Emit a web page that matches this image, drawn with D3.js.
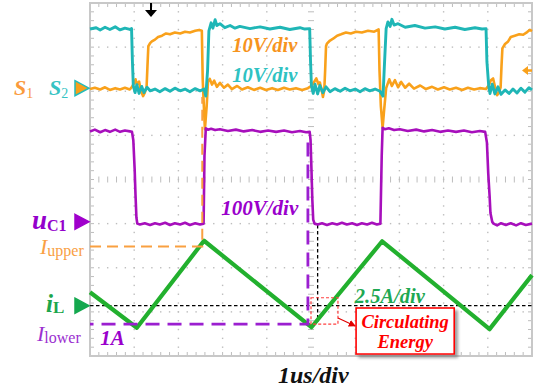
<!DOCTYPE html>
<html><head><meta charset="utf-8">
<script src="https://cdn.jsdelivr.net/npm/d3@7"></script>
<style>body{margin:0;background:#fff}svg{display:block}</style>
</head><body>
<svg id="c" width="538" height="389"></svg>
<script>
// ---------- DATA (time in us, values in V / A) ----------
const channelNames   = ["S1", "S2", "uC1", "iL"];
const channelScales  = [10, 10, 100, 2.5];      // units per division
const channelOffsets = [2.07, 2.07, -0.96, -2.86]; // ground marker, divisions
const scaleLabels    = ["10V/div", "10V/div", "100V/div", "2.5A/div"];
const timebaseLabel  = "1us/div";

const s1Trace = [[0,-0.2],[0.11,0.1],[0.23,-0.3],[0.34,0.2],[0.45,-0.4],[0.57,0.0],[0.68,-0.3],[0.79,0.1],[0.90,-0.3],[0.95,0.3],[1.00,1.2],[1.03,2.0],[1.06,0.8],[1.11,1.5],[1.15,-0.5],[1.20,-1.8],[1.24,-1.0],[1.28,0.2],[1.30,5],[1.32,9.5],[1.36,10.2],[1.40,10.6],[1.47,11.0],[1.54,11.6],[1.63,11.9],[1.72,12.4],[1.81,12.2],[1.92,12.6],[2.04,12.4],[2.15,12.8],[2.26,12.6],[2.38,13.0],[2.47,13.2],[2.53,13.0],[2.55,2],[2.58,-5],[2.60,-9.3],[2.64,-4],[2.67,1.5],[2.71,2.1],[2.76,0.8],[2.81,1.7],[2.87,0.3],[2.94,1.2],[3.03,0.1],[3.12,0.8],[3.21,-0.2],[3.33,0.5],[3.44,-0.3],[3.57,0.2],[3.71,-0.4],[3.85,0.1],[3.98,-0.4],[4.12,0.0],[4.25,-0.4],[4.39,0.1],[4.52,-0.3],[4.66,0.0],[4.80,-0.4],[4.93,0.0],[5.02,0.6],[5.07,1.4],[5.12,2.2],[5.17,0.9],[5.20,1.3],[5.25,-0.8],[5.27,-2.0],[5.30,-0.5],[5.32,4],[5.34,9.5],[5.36,10.1],[5.43,10.8],[5.50,11.2],[5.59,11.9],[5.68,12.2],[5.79,12.6],[5.90,12.4],[6.02,12.8],[6.15,12.6],[6.29,13.0],[6.43,12.8],[6.53,13.3],[6.55,4],[6.58,-4],[6.62,-9.0],[6.65,-5.5],[6.70,0.0],[6.77,2.0],[6.83,0.5],[6.90,1.8],[6.97,0.2],[7.04,1.4],[7.13,0.1],[7.22,1.0],[7.33,-0.1],[7.47,0.6],[7.60,-0.2],[7.74,0.3],[7.87,-0.3],[8.01,0.2],[8.14,-0.3],[8.28,0.1],[8.42,-0.4],[8.55,0.1],[8.69,-0.3],[8.82,0.0],[8.96,-0.2],[9.03,0.8],[9.07,1.8],[9.12,2.2],[9.16,0.4],[9.21,-1.6],[9.25,-1.0],[9.29,0.2],[9.31,5],[9.33,9.0],[9.39,10.0],[9.46,10.6],[9.52,11.6],[9.61,11.9],[9.71,12.2],[9.80,12.1],[9.89,12.7],[9.95,13.2],[10,12.9]];

const s2Trace = [[0,13.4],[0.14,13.7],[0.23,13.2],[0.34,13.8],[0.45,13.3],[0.57,13.9],[0.68,13.2],[0.79,13.6],[0.90,13.3],[0.94,13.5],[0.96,6.0],[0.98,0.5],[1.02,-1.0],[1.06,0.8],[1.11,-1.2],[1.17,0.4],[1.22,-1.0],[1.29,0.2],[1.36,-0.6],[1.47,-0.2],[1.58,-0.8],[1.70,-0.1],[1.81,-0.7],[1.92,0.0],[2.04,-0.6],[2.15,-0.2],[2.26,-0.8],[2.38,-0.1],[2.49,-0.6],[2.58,-0.2],[2.62,-1.8],[2.66,4],[2.69,13.0],[2.74,14.8],[2.78,13.6],[2.83,15.5],[2.87,14.2],[2.94,14.6],[3.05,13.7],[3.17,14.2],[3.28,13.6],[3.39,14.0],[3.62,13.5],[3.85,13.9],[4.07,13.4],[4.30,13.8],[4.52,13.3],[4.75,13.7],[4.86,13.4],[4.97,13.5],[4.99,6],[5.01,0.5],[5.05,-1.2],[5.09,0.9],[5.15,-1.3],[5.20,0.6],[5.27,-1.0],[5.34,0.3],[5.43,-0.8],[5.54,-0.1],[5.66,-0.7],[5.77,0.0],[5.88,-0.6],[6.00,-0.2],[6.11,-0.8],[6.22,-0.1],[6.33,-0.6],[6.45,-0.2],[6.56,-0.7],[6.63,-1.8],[6.66,5],[6.70,13.5],[6.74,15.0],[6.79,14.0],[6.83,15.6],[6.88,14.3],[6.97,14.6],[7.13,13.8],[7.35,14.2],[7.58,13.6],[7.81,13.9],[8.03,13.4],[8.26,13.8],[8.48,13.3],[8.71,13.7],[8.87,13.4],[8.96,13.5],[8.98,6],[9.02,0.5],[9.05,-1.2],[9.10,0.9],[9.16,-1.3],[9.23,0.3],[9.30,-1.4],[9.39,-0.4],[9.48,-1.2],[9.57,-0.2],[9.66,-1.1],[9.75,0.0],[9.84,-0.9],[9.93,0.1],[10,-0.4]];

const uc1Trace = [[0,205],[0.11,209],[0.23,203],[0.34,208],[0.45,204],[0.57,209],[0.68,204],[0.79,207],[0.90,205],[0.95,204],[0.98,185],[1.01,120],[1.03,60],[1.05,10],[1.07,-4],[1.13,-6],[1.24,-3],[1.36,-7],[1.47,-3],[1.58,-6],[1.70,-2],[1.81,-7],[1.92,-3],[2.04,-6],[2.15,-2],[2.26,-7],[2.38,-3],[2.49,-6],[2.57,-4],[2.59,150],[2.62,212],[2.67,209],[2.74,211],[2.83,208],[2.94,210],[3.12,206],[3.30,209],[3.48,205],[3.67,208],[3.85,204],[4.03,207],[4.21,204],[4.39,207],[4.57,203],[4.75,206],[4.89,203],[4.97,204],[4.99,185],[5.01,120],[5.03,50],[5.05,5],[5.08,-4],[5.15,-6],[5.25,-3],[5.36,-7],[5.48,-3],[5.59,-6],[5.70,-2],[5.81,-6],[5.93,-3],[6.04,-7],[6.15,-3],[6.27,-6],[6.38,-2],[6.49,-6],[6.57,-4],[6.60,150],[6.62,213],[6.67,210],[6.76,212],[6.88,208],[7.01,210],[7.19,206],[7.38,209],[7.56,205],[7.74,208],[7.92,204],[8.10,207],[8.28,204],[8.46,207],[8.64,203],[8.82,206],[8.94,204],[8.98,180],[9.01,110],[9.04,60],[9.06,20],[9.10,0],[9.13,-4],[9.21,-8],[9.30,-3],[9.41,-7],[9.52,-3],[9.64,-8],[9.75,-3],[9.86,-7],[10,-4]];

const iLTrace = [[0,0.76],[1.06,-1.25],[2.58,3.68],[5.01,-1.22],[6.61,3.65],[9.04,-1.33],[10,1.73]];

const iUpper = 3.35, iLower = -1.04;       // A
const upperMarkTime = 2.54, lowerMarkTime = 4.93, zeroMarkTime = 5.15; // us
const triggerTime = 1.38;                  // us
const triggerLevel = 4.0;                  // V on S1 (right-edge arrow)

// ---------- SCALES ----------
const svg = d3.select("#c");
const x = d3.scaleLinear().domain([0, 10]).range([90, 532]);
const yDiv = d3.scaleLinear().domain([-4, 4]).range([356, 3]);
const chY = (ci, v) => yDiv(channelOffsets[ci] + v / channelScales[ci]);

const serif = "'Liberation Serif','Times New Roman',serif";

// ---------- GRID ----------
const grid = svg.append("g");
const gcol = "#bdbdbd";
const minor = d3.range(0, 50.001, 1).map(k => k * 0.2);   // 0..10 step .2
const minorY = d3.range(0, 40.001, 1).map(k => -4 + k * 0.2);
d3.range(1, 10).filter(i => i !== 5).forEach(i => {
  grid.selectAll(null).data(minorY.slice(1, -1)).enter().append("rect")
    .attr("x", x(i) - 0.7).attr("y", d => yDiv(d) - 0.7).attr("width", 1.4).attr("height", 1.4).attr("fill", gcol);
});
d3.range(-3, 4).filter(j => j !== 0).forEach(j => {
  grid.selectAll(null).data(minor.slice(1, -1)).enter().append("rect")
    .attr("x", d => x(d) - 0.7).attr("y", yDiv(j) - 0.7).attr("width", 1.4).attr("height", 1.4).attr("fill", gcol);
});
grid.selectAll(null).data(minorY).enter().append("line")
  .attr("x1", x(5) - 3).attr("x2", x(5) + 3).attr("y1", d => yDiv(d)).attr("y2", d => yDiv(d))
  .attr("stroke", gcol).attr("stroke-width", 1);
grid.selectAll(null).data(minor).enter().append("line")
  .attr("y1", yDiv(0) - 3).attr("y2", yDiv(0) + 3).attr("x1", d => x(d)).attr("x2", d => x(d))
  .attr("stroke", gcol).attr("stroke-width", 1);
[[yDiv(4), 1], [yDiv(-4), -1]].forEach(([yy, s]) => {
  grid.selectAll(null).data(minor).enter().append("line")
    .attr("x1", d => x(d)).attr("x2", d => x(d)).attr("y1", yy).attr("y2", yy + 4 * s)
    .attr("stroke", gcol).attr("stroke-width", 1);
});
[[x(0), 1], [x(10), -1]].forEach(([xx, s]) => {
  grid.selectAll(null).data(minorY).enter().append("line")
    .attr("y1", d => yDiv(d)).attr("y2", d => yDiv(d)).attr("x1", xx).attr("x2", xx + 4 * s)
    .attr("stroke", gcol).attr("stroke-width", 1);
});
grid.append("rect").attr("x", x(0)).attr("y", yDiv(4)).attr("width", x(10) - x(0)).attr("height", yDiv(-4) - yDiv(4))
  .attr("fill", "none").attr("stroke", "#c8c8c8").attr("stroke-width", 2);

// ---------- ANNOTATION LINES (behind traces) ----------
const ann = svg.append("g");
ann.append("line").attr("x1", x(0)).attr("x2", x(10)).attr("y1", chY(3, 0)).attr("y2", chY(3, 0))
  .attr("stroke", "#000").attr("stroke-width", 1.3).attr("stroke-dasharray", "3.5,2.5");
ann.append("line").attr("x1", x(zeroMarkTime)).attr("x2", x(zeroMarkTime)).attr("y1", chY(2, -7)).attr("y2", chY(3, -0.93))
  .attr("stroke", "#000").attr("stroke-width", 1.3).attr("stroke-dasharray", "3.5,2.5");

// ---------- TRACES ----------
const traceColors = ["#F9A11B", "#1FB6B6", "#A70FBC", "#22B02E"];
const traces = [s1Trace, s2Trace, uc1Trace, iLTrace];
const widths = [2.6, 2.9, 2.6, 4.2];
[0, 1, 2, 3].forEach(ci => {
  const line = d3.line().x(d => x(d[0])).y(d => chY(ci, d[1]));
  svg.append("path").datum(traces[ci]).attr("d", line).attr("fill", "none")
    .attr("stroke", traceColors[ci]).attr("stroke-width", widths[ci]).attr("stroke-linejoin", "round");
});

// ---------- DASHED MARKERS ----------
svg.append("path").attr("d", d3.line()([[x(0), chY(3, iUpper)], [x(upperMarkTime), chY(3, iUpper)], [x(upperMarkTime), chY(0, -2)]]))
  .attr("fill", "none").attr("stroke", "#F9A040").attr("stroke-width", 2).attr("stroke-dasharray", "11,6");
svg.append("path").attr("d", d3.line()([[x(lowerMarkTime), chY(2, 180)], [x(lowerMarkTime), chY(3, iLower)], [x(0), chY(3, iLower)]]))
  .attr("fill", "none").attr("stroke", "#9B1FD0").attr("stroke-width", 2.8).attr("stroke-dasharray", "14,8");

svg.append("rect").attr("x", x(5.0)).attr("y", chY(3, 0.45)).attr("width", x(5.61) - x(5.0)).attr("height", chY(3, -1.04) - chY(3, 0.45))
  .attr("fill", "none").attr("stroke", "#FF4040").attr("stroke-width", 1.2).attr("stroke-dasharray", "3,2");

const defs = svg.append("defs");
const f = defs.append("filter").attr("id", "sh").attr("x", "-20%").attr("y", "-20%").attr("width", "150%").attr("height", "150%");
f.append("feDropShadow").attr("dx", 3).attr("dy", 3).attr("stdDeviation", 1.8).attr("flood-color", "#777").attr("flood-opacity", 0.7);
defs.append("marker").attr("id", "ah").attr("viewBox", "0 0 10 10").attr("refX", 9).attr("refY", 5)
  .attr("markerWidth", 6).attr("markerHeight", 6).attr("orient", "auto")
  .append("path").attr("d", "M0,0L10,5L0,10z").attr("fill", "#E00000");
const bx0 = x(6.02), bx1 = x(8.24), by0 = chY(3, -0.13), by1 = chY(3, -2.74);
svg.append("rect").attr("x", bx0).attr("y", by0).attr("width", bx1 - bx0).attr("height", by1 - by0)
  .attr("fill", "#fff").attr("stroke", "#FF0000").attr("stroke-width", 1.6).attr("filter", "url(#sh)");
svg.append("line").attr("x1", x(5.61)).attr("y1", chY(3, -0.70)).attr("x2", x(6.0)).attr("y2", chY(3, -1.15))
  .attr("stroke", "#E00000").attr("stroke-width", 1.2).attr("marker-end", "url(#ah)");
const calloutText = ["Circulating", "Energy"];
svg.selectAll(null).data(calloutText).enter().append("text")
  .attr("x", (bx0 + bx1) / 2).attr("y", (d, i) => by0 + 20 + i * 20).attr("text-anchor", "middle")
  .attr("font-family", serif).attr("font-weight", "bold").attr("font-style", "italic").attr("font-size", 18.5)
  .attr("fill", "#FF0000").text(d => d);

// ---------- SCALE LABELS ----------
const lblColors = ["#F7941D", "#2FC2C2", "#9A00CC", "#1FA852"];
const lblPos = [[3.22, 0, 8.1], [3.22, 1, 1.5], [2.97, 2, 16], [5.99, 3, 0.15]]; // [t, channel, value at baseline]
lblPos.forEach(([t, ci, v], k) => {
  svg.append("text").attr("x", x(t)).attr("y", chY(ci, v)).attr("font-family", serif).attr("font-weight", "bold")
    .attr("font-style", "italic").attr("font-size", k === 2 ? 21 : 20.5).attr("fill", lblColors[k]).text(scaleLabels[k]);
});
svg.append("text").attr("x", x(0.23)).attr("y", chY(3, -2.2)).attr("font-family", serif).attr("font-weight", "bold")
  .attr("font-style", "italic").attr("font-size", 21).attr("fill", "#9A00CC").text("1A");
svg.append("text").attr("x", 278).attr("y", 383).attr("font-family", serif).attr("font-weight", "bold")
  .attr("font-style", "italic").attr("font-size", 24).attr("fill", "#111").text(timebaseLabel);

// ---------- LEFT CHANNEL LABELS ----------
function subLabel(xp, yp, main, sub, col, mSize, sSize, mBold, sBold, mItal, dy) {
  const t = svg.append("text").attr("x", xp).attr("y", yp).attr("font-family", serif).attr("fill", col);
  t.append("tspan").attr("font-size", mSize).attr("font-weight", mBold ? "bold" : "normal")
    .attr("font-style", mItal ? "italic" : "normal").text(main);
  t.append("tspan").attr("font-size", sSize).attr("font-weight", sBold ? "bold" : "normal").attr("dy", dy).text(sub);
}
subLabel(14, chY(0, -1.5), "S", "1", "#FA9A3C", 22, 14, true, false, true, 3);
subLabel(49, chY(0, -1.5), "S", "2", "#36C3C3", 22, 14, true, false, true, 3);
subLabel(32, chY(2, -17), "u", "C1", "#9400CC", 27, 16, true, true, true, 2);
subLabel(40, chY(3, 2.92), "I", "upper", "#F9A044", 22, 16, false, false, true, 2);
subLabel(46, chY(3, -0.35), "i", "L", "#1CA64C", 25, 17, true, true, true, 1);
subLabel(37, chY(3, -2.0), "I", "lower", "#9B30D0", 22, 16, false, false, true, 2);

// ground markers
const markerFill = ["#F7A01A", "#A000CC", "#14A84E"];
const markerStroke = ["#22BBBB", "#A000CC", "#14A84E"];
[[0, 0], [2, 1], [3, 2]].forEach(([ci, k]) => {
  const yy = chY(ci, 0), x1 = x(0);
  svg.append("path").attr("d", `M${x1 - 15},${yy - 7.5}L${x1 - 1},${yy}L${x1 - 15},${yy + 7.5}Z`)
    .attr("fill", markerFill[k]).attr("stroke", markerStroke[k]).attr("stroke-width", 1.5);
});

// trigger position marker (top)
const tx = x(triggerTime);
svg.append("line").attr("x1", tx).attr("x2", tx).attr("y1", 3).attr("y2", 11).attr("stroke", "#000").attr("stroke-width", 2);
svg.append("path").attr("d", `M${tx - 6},10L${tx + 6},10L${tx},17Z`).attr("fill", "#000");
// trigger level marker (right)
const ty = chY(0, triggerLevel);
svg.append("path").attr("d", `M${x(10) - 10},${ty}L${x(10) - 4},${ty - 4.5}L${x(10) - 4},${ty + 4.5}Z`).attr("fill", "#F9A11B");
svg.append("line").attr("x1", x(10) - 5).attr("x2", x(10)).attr("y1", ty).attr("y2", ty).attr("stroke", "#F9A11B").attr("stroke-width", 2.5);
</script>
</body></html>
